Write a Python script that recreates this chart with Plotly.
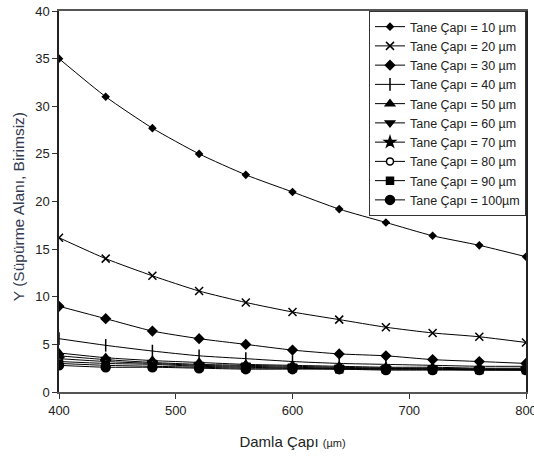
import plotly.graph_objects as go

# Droplet diameter (µm)
damla_capi = [400, 440, 480, 520, 560, 600, 640, 680, 720, 760, 800]

# Sweep area Y for each particle diameter
y_10 = [35.0, 31.0, 27.7, 25.0, 22.8, 21.0, 19.2, 17.8, 16.4, 15.4, 14.2]
y_20 = [16.2, 14.0, 12.2, 10.6, 9.4, 8.4, 7.6, 6.8, 6.2, 5.8, 5.2]
y_30 = [9.0, 7.7, 6.4, 5.6, 5.0, 4.4, 4.0, 3.8, 3.4, 3.2, 3.0]
y_40 = [5.6, 4.9, 4.3, 3.8, 3.5, 3.2, 3.0, 2.9, 2.8, 2.7, 2.7]
y_50 = [4.1, 3.6, 3.3, 3.1, 2.9, 2.8, 2.7, 2.6, 2.6, 2.5, 2.5]
y_60 = [3.8, 3.4, 3.1, 2.9, 2.8, 2.7, 2.6, 2.5, 2.5, 2.4, 2.4]
y_70 = [3.5, 3.2, 3.0, 2.8, 2.7, 2.6, 2.5, 2.5, 2.4, 2.4, 2.4]
y_80 = [3.2, 3.0, 2.9, 2.7, 2.6, 2.5, 2.5, 2.4, 2.4, 2.4, 2.3]
y_90 = [3.0, 2.8, 2.7, 2.6, 2.5, 2.5, 2.4, 2.4, 2.4, 2.3, 2.3]
y_100 = [2.8, 2.6, 2.6, 2.5, 2.4, 2.4, 2.4, 2.3, 2.3, 2.3, 2.3]

series_names = [
    "Tane Çapı = 10 µm", "Tane Çapı = 20 µm", "Tane Çapı = 30 µm",
    "Tane Çapı = 40 µm", "Tane Çapı = 50 µm", "Tane Çapı = 60 µm",
    "Tane Çapı = 70 µm", "Tane Çapı = 80 µm", "Tane Çapı = 90 µm",
    "Tane Çapı = 100µm",
]
series_values = [y_10, y_20, y_30, y_40, y_50, y_60, y_70, y_80, y_90, y_100]

x_ticks = [400, 500, 600, 700, 800]
y_ticks = [0, 5, 10, 15, 20, 25, 30, 35, 40]

# marker style per series: (symbol, size, fill)
marker_styles = [
    ("diamond", 5, "black"),
    ("x-thin", 8, "black"),
    ("diamond", 7, "black"),
    ("line-ns", 9, "black"),
    ("triangle-up", 8, "black"),
    ("triangle-down", 8, "black"),
    ("star", 8, "black"),
    ("circle", 7, "white"),
    ("square", 7, "black"),
    ("circle", 9, "black"),
]

fig = go.Figure()
for name, vals, (sym, size, fill) in zip(series_names, series_values, marker_styles):
    fig.add_trace(go.Scatter(
        x=damla_capi, y=vals, name=name, mode="lines+markers",
        line=dict(color="black", width=1, shape="spline", smoothing=0.6),
        marker=dict(symbol=sym, size=size, color=fill,
                    line=dict(color="black", width=1.5)),
    ))

font_family = "Liberation Sans, Arial, sans-serif"

fig.update_layout(
    width=534, height=457,
    margin=dict(l=59, r=8, t=11, b=65, autoexpand=False),
    paper_bgcolor="white", plot_bgcolor="white",
    font=dict(family=font_family, size=13, color="#222"),
    showlegend=True,
    legend=dict(
        x=1, xanchor="right", y=1, yanchor="top",
        bgcolor="white", bordercolor="#333", borderwidth=1,
        font=dict(size=12.5, color="#222"),
        itemwidth=30, tracegroupgap=0,
    ),
    xaxis=dict(
        range=[400, 800], tickvals=x_ticks,
        showgrid=False, zeroline=False, automargin=False,
        showline=True, linecolor="#555", linewidth=2, mirror=True,
        ticks="outside", ticklen=5, tickcolor="#333",
        tickfont=dict(size=13, color="#222"),
        ticklabeloverflow="allow",
        title=dict(text="Damla Çapı <span style='font-size:11px'>(µm)</span>",
                   font=dict(size=15, color="#222"), standoff=20),
    ),
    yaxis=dict(
        range=[0, 40], tickvals=y_ticks,
        showgrid=False, zeroline=False, automargin=False,
        showline=True, linecolor="#222", linewidth=1.5, mirror=True,
        ticks="outside", ticklen=5, tickcolor="#333",
        tickfont=dict(size=13, color="#222"),
    ),
    annotations=[dict(
        text="Y (Süpürme Alanı, Birimsiz)", textangle=-90,
        xref="paper", yref="paper", x=0, y=0.485,
        xanchor="center", yanchor="middle", xshift=-41, showarrow=False,
        font=dict(size=15.5, color="#333a50"),
    )],
)

fig.write_html("out.html")
